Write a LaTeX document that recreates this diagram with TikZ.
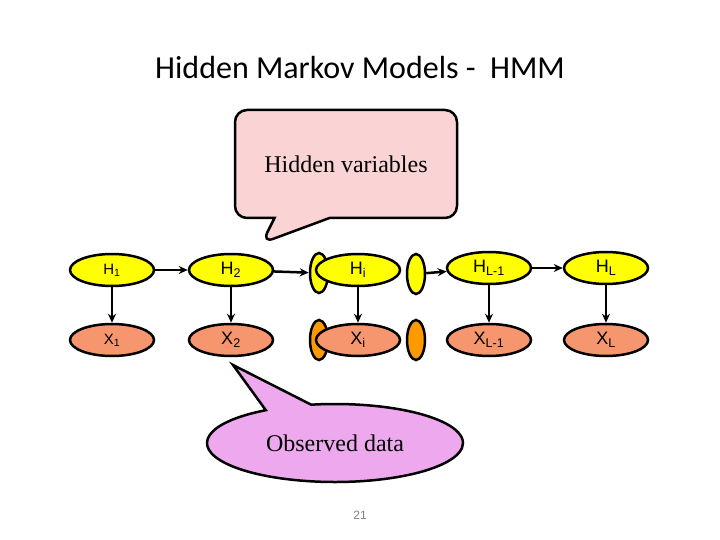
\documentclass[tikz,border=0pt]{standalone}
\usepackage{fontspec}
\setmainfont{Liberation Serif}
\setsansfont{Liberation Sans}
\newfontfamily\titlefont{Carlito}
\usetikzlibrary{shapes.geometric,shapes.callouts,arrows.meta}
\definecolor{hidyellow}{RGB}{255,255,0}
\definecolor{obssalmon}{RGB}{246,150,110}
\definecolor{obsorange}{RGB}{255,153,0}
\definecolor{calloutpink}{RGB}{250,212,212}
\definecolor{calloutviolet}{RGB}{238,168,238}
\begin{document}
\begin{tikzpicture}[x=1pt,y=-1pt,
  every node/.style={inner sep=0pt},
  hid/.style={draw=black,line width=2.5pt,ellipse,fill=hidyellow,minimum width=84pt,minimum height=32pt,font=\sffamily\fontsize{18}{18}\selectfont},
  obs/.style={hid,fill=obssalmon},
  gaph/.style={draw=black,line width=2.5pt,ellipse,fill=hidyellow,minimum width=18pt,minimum height=40pt},
  gapx/.style={gaph,fill=obsorange},
  arr/.style={-{Stealth[length=9pt,width=8pt]},line width=2.5pt}]
  \useasboundingbox (0,0) rectangle (720,540);
  \node (title) at (360,68) {\titlefont\fontsize{32}{32}\selectfont Hidden Markov Models -\ \ HMM};
  % hidden chain
  \node (Hl) [gaph] at (319,273) {};
  \node (Hr) [gaph] at (416,274) {};
  \node (H1) [hid] at (112,270) {\fontsize{15}{15}\selectfont H\textsubscript{1}};
  \node (H2) [hid] at (231,270) {H\textsubscript{2}};
  \node (Hi) [hid] at (358,270) {H\textsubscript{i}};
  \node (HLm) [hid] at (489,268) {H\textsubscript{L-1}};
  \node (HL) [hid] at (606,268) {H\textsubscript{L}};
  % observed
  \node (Xl) [gapx] at (319,340) {};
  \node (Xr) [gapx] at (416,340) {};
  \node (X1) [obs] at (112,340) {\fontsize{15}{15}\selectfont X\textsubscript{1}};
  \node (X2) [obs] at (231,340) {X\textsubscript{2}};
  \node (Xi) [obs] at (358,340) {X\textsubscript{i}};
  \node (XLm) [obs] at (489,340) {X\textsubscript{L-1}};
  \node (XL) [obs] at (606,340) {X\textsubscript{L}};
  \draw[arr] (H1) -- (H2);
  \draw[arr] (H2) -- (Hl);
  \draw[arr] (Hr) -- (HLm);
  \draw[arr] (HLm) -- (HL);
  \draw[arr] (H1) -- (X1);
  \draw[arr] (H2) -- (X2);
  \draw[arr] (Hi) -- (Xi);
  \draw[arr] (HLm) -- (XLm);
  \draw[arr] (HL) -- (XL);
  % callouts
  \node (hidden) [rectangle callout,draw=black,line width=2.5pt,fill=calloutpink,rounded corners=12pt,
    minimum width=222pt,minimum height=108pt,callout absolute pointer={(262,243)},
    callout pointer width=55pt,font=\fontsize{24}{24}\selectfont] at (346,164) {Hidden variables};
  \node (observed) [ellipse callout,draw=black,line width=2.5pt,fill=calloutviolet,
    minimum width=256pt,minimum height=78pt,callout absolute pointer={(233,365)},
    callout pointer arc=22,font=\fontsize{24}{24}\selectfont] at (335,443) {Observed data};
  \node (page) [text=gray,font=\sffamily\fontsize{12}{12}\selectfont] at (360,515) {21};
\end{tikzpicture}
\end{document}
